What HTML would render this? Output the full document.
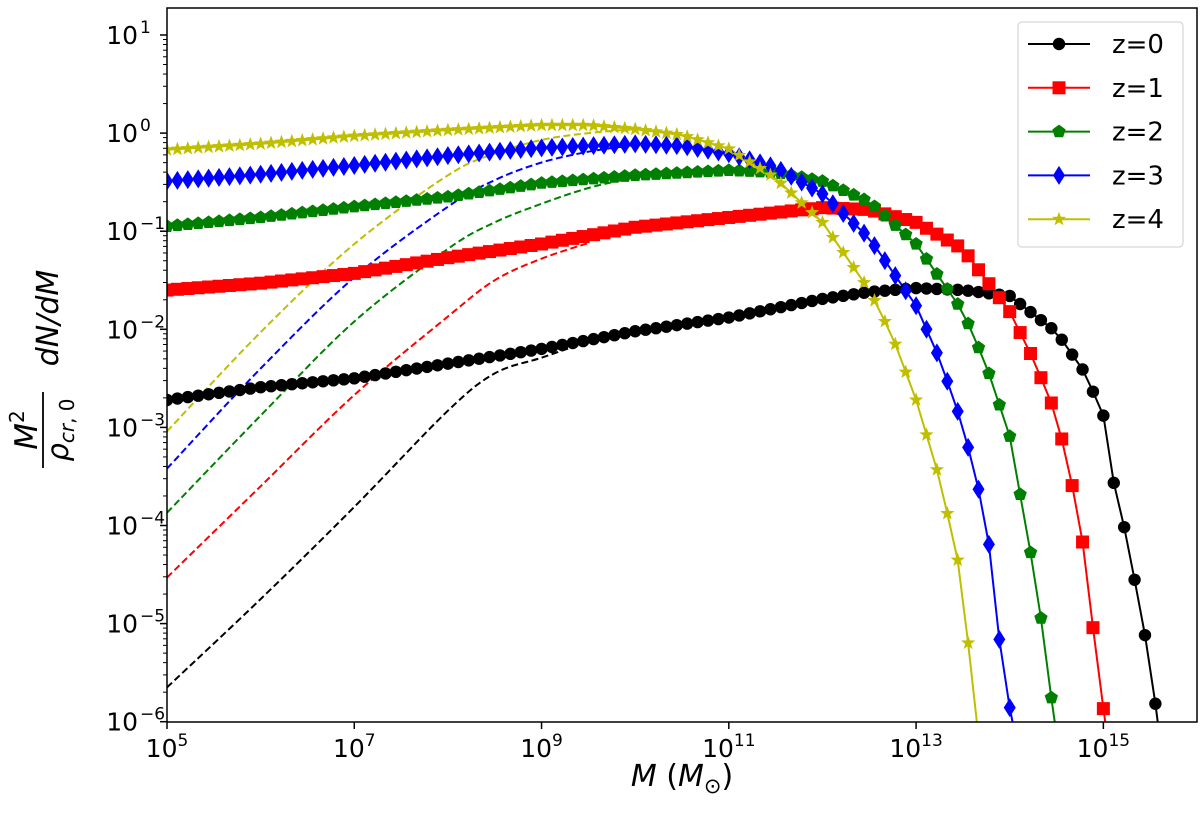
<!DOCTYPE html>
<html><head><meta charset="utf-8"><style>
html,body{margin:0;padding:0;background:#fff}
svg{display:block}
text{font-family:"DejaVu Sans","Liberation Sans",sans-serif}
</style></head><body>
<svg id="chart" width="1200" height="813" viewBox="0 0 1200 813" xmlns="http://www.w3.org/2000/svg">
<defs><clipPath id="clip"><rect x="167" y="8" width="1030" height="714"/></clipPath></defs>
<rect x="0" y="0" width="1200" height="813" fill="#fff"/>
<g id="dashed" clip-path="url(#clip)"></g>
<g id="solid" clip-path="url(#clip)"></g>
<g id="markers" clip-path="url(#clip)"></g>
<rect x="167" y="8" width="1030" height="714" fill="none" stroke="#000" stroke-width="1.5"/>
<g id="axes"></g>
<text x="682" y="786" font-size="30" text-anchor="middle"><tspan font-style="italic">M</tspan> (<tspan font-style="italic">M</tspan><tspan font-size="21" dy="7">⊙</tspan><tspan dy="-7">)</tspan></text>
<g transform="translate(0,368) rotate(-90)">
<text x="-62" y="37" font-size="31" text-anchor="middle" font-style="italic">M<tspan font-size="20" dy="-13" font-style="normal">2</tspan></text>
<line x1="-100" y1="43" x2="-24" y2="43" stroke="#000" stroke-width="1.8"/>
<text x="-62" y="68" font-size="29" text-anchor="middle" font-style="italic">ρ<tspan font-size="20" dy="6">cr</tspan><tspan font-size="20" font-style="normal">, 0</tspan></text>
<text x="50" y="58" font-size="30" text-anchor="middle" font-style="italic">dN/dM</text>
</g>
<g id="legend">
<rect x="1018" y="22" width="165" height="225" rx="4" fill="#fff" fill-opacity="0.85" stroke="#d6d6d6" stroke-width="1.2"/>
</g>
</svg>
<script>
// Data: log10(M) knots and log10(M^2/rho dN/dM) values
const labels = ["z=0","z=1","z=2","z=3","z=4"];
const colors = ["#000000","#ff0000","#008000","#0000ff","#bfbf00"];
const shapes = ["circle","square","pentagon","diamond","star"];

const solidM0 = [5,6,7,8,9,10,11,12,12.5,13,13.5,14,14.5,14.8,15,15.1,15.25,15.5,15.58];
const solidY0 = [-2.72,-2.59,-2.5,-2.35,-2.2,-2.02,-1.88,-1.69,-1.62,-1.58,-1.6,-1.66,-2.03,-2.44,-2.88,-3.52,-4.13,-5.4,-6.0];
const solidM1 = [5,6,7,8,9,10,11,12,12.5,13,13.5,14,14.25,14.5,14.75,14.96,15.02];
const solidY1 = [-1.6,-1.53,-1.43,-1.27,-1.13,-0.96,-0.86,-0.76,-0.78,-0.91,-1.18,-1.82,-2.3,-2.88,-3.95,-5.6,-6.0];
const solidM2 = [5,6,7,8,9,10,11,11.5,12,12.5,13,13.5,13.75,14,14.3,14.4,14.48];
const solidY2 = [-0.95,-0.86,-0.75,-0.65,-0.51,-0.43,-0.38,-0.4,-0.49,-0.7,-1.13,-1.82,-2.37,-3.09,-4.69,-5.45,-6.0];
const solidM3 = [5,6,7,8,9,10,10.5,11,11.5,12,12.5,13,13.25,13.5,13.75,13.93,14.03];
const solidY3 = [-0.49,-0.42,-0.33,-0.23,-0.15,-0.11,-0.13,-0.21,-0.35,-0.62,-1.07,-1.76,-2.3,-2.99,-3.95,-5.52,-6.0];
const solidM4 = [5,6,7,8,9,9.5,10,10.5,11,11.5,12,12.5,12.75,13,13.25,13.5,13.62,13.66];
const solidY4 = [-0.17,-0.11,-0.03,0.03,0.08,0.08,0.04,-0.02,-0.16,-0.46,-0.91,-1.6,-2.08,-2.72,-3.52,-4.59,-5.9,-6.1];

const dashM0 = [5,6,7,8,8.5,9,9.5,10];
const dashY0 = [-5.65,-4.75,-3.81,-2.83,-2.45,-2.29,-2.13,-2.02];
const dashM1 = [5,6,7,8,8.5,9,9.5];
const dashY1 = [-4.53,-3.6,-2.67,-1.87,-1.5,-1.28,-1.12];
const dashM2 = [5,6,7,8,8.5,9,9.5,10];
const dashY2 = [-3.87,-2.88,-1.92,-1.18,-0.91,-0.72,-0.56,-0.45];
const dashM3 = [5,6,7,8,8.5,9,9.5,10];
const dashY3 = [-3.42,-2.4,-1.47,-0.75,-0.48,-0.3,-0.19,-0.12];
const dashM4 = [5,6,7,8,8.5,9,9.5,10];
const dashY4 = [-3.04,-2.03,-1.13,-0.43,-0.21,-0.07,0.0,0.04];

const xTicks = [5,7,9,11,13,15];
const yTicks = [1,0,-1,-2,-3,-4,-5,-6];

const solidM=[solidM0,solidM1,solidM2,solidM3,solidM4], solidY=[solidY0,solidY1,solidY2,solidY3,solidY4];
const dashM=[dashM0,dashM1,dashM2,dashM3,dashM4], dashY=[dashY0,dashY1,dashY2,dashY3,dashY4];

const NS="http://www.w3.org/2000/svg";
const X0=167, XW=1030, XMIN=5, XMAX=16;
const Y1=35, DEC=98.1;
function xs(l){return X0+(l-XMIN)/(XMAX-XMIN)*XW;}
function ys(l){return Y1+(1-l)*DEC;}
function mk(t,a,p){const e=document.createElementNS(NS,t);for(const k in a)e.setAttribute(k,a[k]);p.appendChild(e);return e;}
function interp(M,Y,m){for(let i=0;i<M.length-1;i++){if(m>=M[i]&&m<=M[i+1]){return Y[i]+(Y[i+1]-Y[i])*(m-M[i])/(M[i+1]-M[i]);}}return null;}
function smoothPath(P){
  let d="M"+P[0][0].toFixed(1)+","+P[0][1].toFixed(1);
  for(let i=0;i<P.length-1;i++){
    const p0=P[Math.max(0,i-1)],p1=P[i],p2=P[i+1],p3=P[Math.min(P.length-1,i+2)];
    const c1=[p1[0]+(p2[0]-p0[0])/6,p1[1]+(p2[1]-p0[1])/6];
    const c2=[p2[0]-(p3[0]-p1[0])/6,p2[1]-(p3[1]-p1[1])/6];
    d+=" C"+c1[0].toFixed(1)+","+c1[1].toFixed(1)+" "+c2[0].toFixed(1)+","+c2[1].toFixed(1)+" "+p2[0].toFixed(1)+","+p2[1].toFixed(1);
  }
  return d;
}

function marker(shape,cx,cy,col,p){
  let e;
  if(shape==="circle"){e=mk("circle",{cx:cx,cy:cy,r:6.2,fill:col},p);}
  else if(shape==="square"){e=mk("rect",{x:cx-6.5,y:cy-6.5,width:13,height:13,fill:col},p);}
  else if(shape==="diamond"){e=mk("polygon",{points:`${cx},${cy-9.5} ${cx+6},${cy} ${cx},${cy+9.5} ${cx-6},${cy}`,fill:col},p);}
  else{
    const n=shape==="star"?10:5, pts=[];
    for(let i=0;i<n;i++){const a=-Math.PI/2+i*2*Math.PI/n;const r=shape==="star"?(i%2?3.1:7.5):7;pts.push((cx+r*Math.cos(a)).toFixed(2)+","+(cy+r*Math.sin(a)).toFixed(2));}
    e=mk("polygon",{points:pts.join(" "),fill:col},p);
  }
  return e;
}

const gD=document.getElementById("dashed"), gS=document.getElementById("solid"), gM=document.getElementById("markers");
for(let s=0;s<5;s++){
  const P=dashM[s].map((m,i)=>[xs(m),ys(dashY[s][i])]);
  const d=mk("path",{d:smoothPath(P),fill:"none",stroke:colors[s],"stroke-width":2,"stroke-dasharray":"7,3.5"},gD);
  
  
}
for(let s=0;s<5;s++){
  const pts=[];
  for(let k=0;k<100;k++){const m=5+k*11/99;const v=interp(solidM[s],solidY[s],m);if(v!==null)pts.push([m,v]);}
  const M=solidM[s], last=M[M.length-1];
  const lp=pts.map(p=>xs(p[0]).toFixed(1)+","+ys(p[1]).toFixed(1));
  lp.push(xs(last).toFixed(1)+","+ys(solidY[s][M.length-1]).toFixed(1));
  const l=mk("polyline",{points:lp.join(" "),fill:"none",stroke:colors[s],"stroke-width":2},gS);
  
  
  pts.forEach(p=>{const e=marker(shapes[s],xs(p[0]),ys(p[1]),colors[s],gM);
    
    });
}
const gA=document.getElementById("axes");
xTicks.forEach(t=>{
  const x=xs(t);
  mk("line",{x1:x,y1:722,x2:x,y2:729,stroke:"#000","stroke-width":1.5},gA);
  const tx=mk("text",{x:x,y:757,"font-size":25,"text-anchor":"middle"},gA);
  
  
  tx.innerHTML='10<tspan font-size="17" dy="-11">'+t+'</tspan>';
});
yTicks.forEach(t=>{
  const y=ys(t);
  mk("line",{x1:160,y1:y,x2:167,y2:y,stroke:"#000","stroke-width":1.5},gA);
  const tx=mk("text",{x:138,y:y+9,"font-size":25,"text-anchor":"end"},gA);
  
  
  tx.innerHTML='10';
  const sp=mk("text",{x:140,y:y-2,"font-size":17,"text-anchor":"start"},gA);
  
  
  sp.textContent=t<0?'−'+(-t):''+t;
  if(t>-6){for(let k=2;k<10;k++){const yy=ys(t-1+Math.log10(k));if(yy<8)continue;mk("line",{x1:163,y1:yy,x2:167,y2:yy,stroke:"#000","stroke-width":1},gA);}}
});
for(let k=2;k<10;k++){const yy=ys(1+Math.log10(k));if(yy>=8)mk("line",{x1:163,y1:yy,x2:167,y2:yy,stroke:"#000","stroke-width":1},gA);}
const gL=document.getElementById("legend");
labels.forEach((lab,s)=>{
  const y=44+s*43.8;
  const ln=mk("line",{x1:1028,y1:y,x2:1090,y2:y,stroke:colors[s],"stroke-width":2},gL);
  
  
  const m=marker(shapes[s],1059,y,colors[s],gL);
  
  
  const t=mk("text",{x:1112,y:y+9,"font-size":26},gL);
  
  
  t.textContent=lab;
});
</script>
</body></html>
